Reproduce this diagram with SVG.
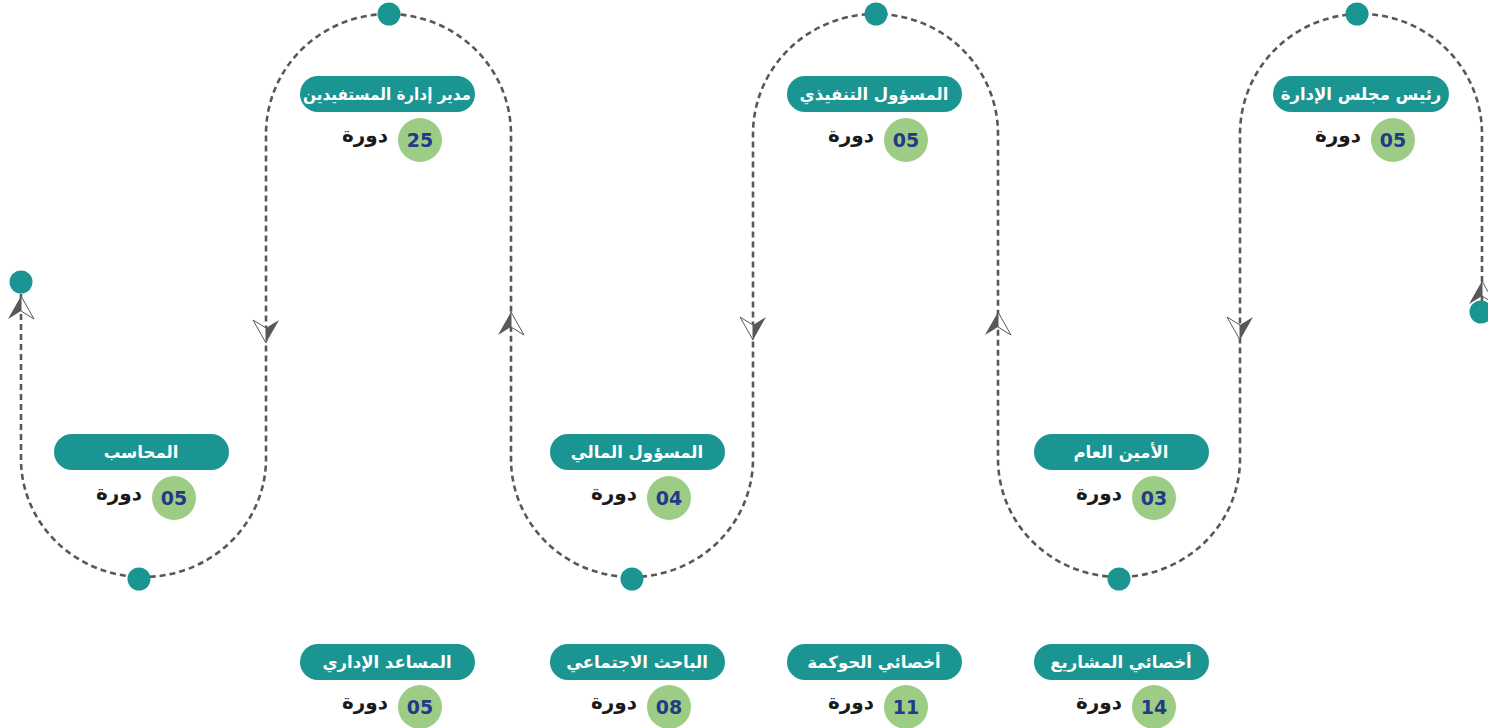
<svg xmlns="http://www.w3.org/2000/svg" xmlns:xlink="http://www.w3.org/1999/xlink" width="1488" height="728" viewBox="0 0 1488 728">
<style>
.pill{fill:#1a9591}
.ptxt{fill:#ffffff;font-family:"DejaVu Sans",sans-serif;font-weight:bold;font-size:16.5px;text-anchor:middle}
.num{fill:#9dcd85}
.ntxt{fill:#253a86;font-family:"DejaVu Sans",sans-serif;font-weight:bold;font-size:19px;text-anchor:middle}
.dtxt{fill:#1a1a1a;font-family:"DejaVu Sans",sans-serif;font-weight:bold;font-size:20px;text-anchor:end}
.dot{fill:#1a9591}
.flow{fill:none;stroke:#585858;stroke-width:2.6;stroke-dasharray:6 4}
</style>
<defs>
<g id="arr">
<path d="M0,0 L-13,23 L0,15 Z" fill="#585858"/>
<path d="M0,0 L13,23 L0,15 Z" fill="#ffffff" stroke="#585858" stroke-width="1"/>
</g>
</defs>
<g id="connectors">
<path class="flow" d="M1482,312 L1482,134 A121,120 0 0 0 1240,134 L1240,459 A121,118 0 0 1 998,459 L998,134 A122.5,120 0 0 0 753,134 L753,459 A121,118 0 0 1 511,459 L511,134 A122.5,120 0 0 0 266,134 L266,459 A122.5,118 0 0 1 21,459 L21,290"/>
<use xlink:href="#arr" transform="translate(21,296)"/>
<use xlink:href="#arr" transform="translate(266,343) rotate(180)"/>
<use xlink:href="#arr" transform="translate(511,312)"/>
<use xlink:href="#arr" transform="translate(753,340) rotate(180)"/>
<use xlink:href="#arr" transform="translate(998,312)"/>
<use xlink:href="#arr" transform="translate(1240,340) rotate(180)"/>
<use xlink:href="#arr" transform="translate(1482,281)"/>
<circle class="dot" cx="1481" cy="312" r="11.5"/>
<circle class="dot" cx="1357" cy="14" r="11.5"/>
<circle class="dot" cx="1119" cy="579" r="11.5"/>
<circle class="dot" cx="876" cy="14" r="11.5"/>
<circle class="dot" cx="632" cy="579" r="11.5"/>
<circle class="dot" cx="389" cy="14" r="11.5"/>
<circle class="dot" cx="139" cy="579" r="11.5"/>
<circle class="dot" cx="21" cy="282" r="11.5"/>
</g>
<g id="node-chairman">
<rect class="pill" x="1273" y="76" width="176" height="36" rx="18"/>
<text class="ptxt" x="1361" y="100">رئيس مجلس الإدارة</text>
<circle class="num" cx="1393" cy="140" r="22"/>
<text class="ntxt" x="1393" y="147">05</text>
<text class="dtxt" x="1361" y="142">دورة</text>
</g>
<g id="node-executive">
<rect class="pill" x="787" y="76" width="175" height="36" rx="18"/>
<text class="ptxt" x="874" y="100">المسؤول التنفيذي</text>
<circle class="num" cx="906" cy="140" r="22"/>
<text class="ntxt" x="906" y="147">05</text>
<text class="dtxt" x="874" y="142">دورة</text>
</g>
<g id="node-beneficiaries">
<rect class="pill" x="300" y="76" width="175" height="36" rx="18"/>
<text class="ptxt" x="387" y="100" textLength="168" lengthAdjust="spacingAndGlyphs">مدير إدارة المستفيدين</text>
<circle class="num" cx="420" cy="140" r="22"/>
<text class="ntxt" x="420" y="147">25</text>
<text class="dtxt" x="388" y="142">دورة</text>
</g>
<g id="node-accountant">
<rect class="pill" x="54" y="434" width="175" height="36" rx="18"/>
<text class="ptxt" x="141" y="458">المحاسب</text>
<circle class="num" cx="174" cy="498" r="22"/>
<text class="ntxt" x="174" y="505">05</text>
<text class="dtxt" x="142" y="500">دورة</text>
</g>
<g id="node-finance">
<rect class="pill" x="550" y="434" width="175" height="36" rx="18"/>
<text class="ptxt" x="637" y="458">المسؤول المالي</text>
<circle class="num" cx="669" cy="498" r="22"/>
<text class="ntxt" x="669" y="505">04</text>
<text class="dtxt" x="637" y="500">دورة</text>
</g>
<g id="node-secretary">
<rect class="pill" x="1034" y="434" width="175" height="36" rx="18"/>
<text class="ptxt" x="1121" y="458">الأمين العام</text>
<circle class="num" cx="1154" cy="498" r="22"/>
<text class="ntxt" x="1154" y="505">03</text>
<text class="dtxt" x="1122" y="500">دورة</text>
</g>
<g id="node-admin-assistant">
<rect class="pill" x="300" y="644" width="175" height="36" rx="18"/>
<text class="ptxt" x="387" y="668">المساعد الإداري</text>
<circle class="num" cx="420" cy="707" r="22"/>
<text class="ntxt" x="420" y="714">05</text>
<text class="dtxt" x="388" y="709">دورة</text>
</g>
<g id="node-social-researcher">
<rect class="pill" x="550" y="644" width="175" height="36" rx="18"/>
<text class="ptxt" x="637" y="668">الباحث الاجتماعي</text>
<circle class="num" cx="669" cy="707" r="22"/>
<text class="ntxt" x="669" y="714">08</text>
<text class="dtxt" x="637" y="709">دورة</text>
</g>
<g id="node-governance">
<rect class="pill" x="787" y="644" width="175" height="36" rx="18"/>
<text class="ptxt" x="874" y="668">أخصائي الحوكمة</text>
<circle class="num" cx="906" cy="707" r="22"/>
<text class="ntxt" x="906" y="714">11</text>
<text class="dtxt" x="874" y="709">دورة</text>
</g>
<g id="node-projects">
<rect class="pill" x="1034" y="644" width="175" height="36" rx="18"/>
<text class="ptxt" x="1121" y="668">أخصائي المشاريع</text>
<circle class="num" cx="1154" cy="707" r="22"/>
<text class="ntxt" x="1154" y="714">14</text>
<text class="dtxt" x="1122" y="709">دورة</text>
</g>
</svg>
